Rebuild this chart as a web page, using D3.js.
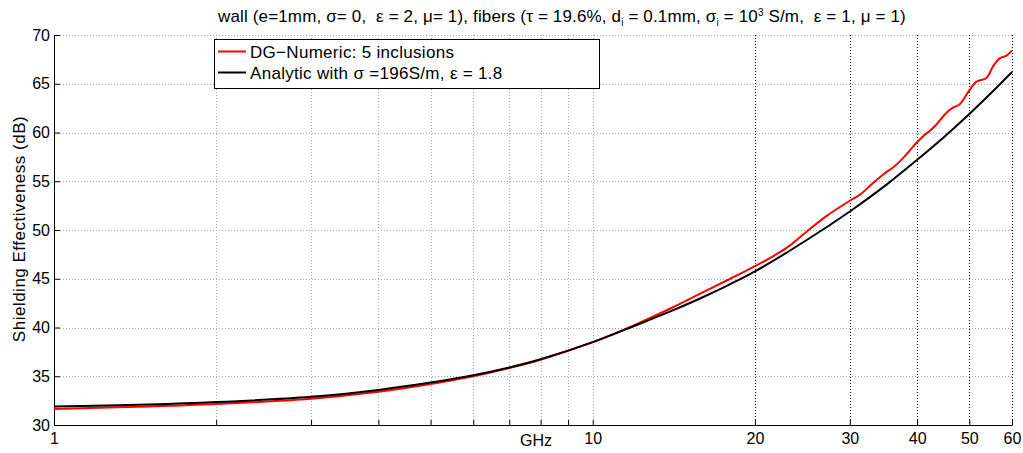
<!DOCTYPE html>
<html>
<head>
<meta charset="utf-8">
<script src="https://cdn.jsdelivr.net/npm/d3@7"></script>
<style>
  body { margin: 0; background: #fff; }
  text { font-family: "Liberation Sans", Arial, sans-serif; fill: #000; white-space: pre; }
</style>
</head>
<body>
<div id="chart"></div>
<script>
// data (GHz / dB)
var numFreq = [1, 1.5, 2, 3, 4, 5, 6, 7, 8, 10, 12, 14, 16, 18, 20, 21.6, 23.2, 24.9, 27.1, 30, 31.3, 33.1, 34.6, 36.6, 38.2, 39.9, 41, 42.2, 43.4, 45.3, 46.6, 48, 50.1, 51.5, 53.8, 55.3, 56.9, 58.5, 60];
var numSE = [31.65, 31.9, 32.15, 32.7, 33.4, 34.2, 35.0, 35.85, 36.7, 38.5, 40.3, 42.0, 43.6, 45.0, 46.3, 47.3, 48.4, 49.8, 51.4, 53.0, 53.6, 54.8, 55.7, 56.7, 57.75, 58.95, 59.6, 60.15, 60.8, 62.0, 62.55, 62.9, 64.4, 65.2, 65.6, 66.75, 67.6, 67.85, 68.4];

var anaFreq = [1, 1.5, 2, 3, 4, 5, 6, 7, 8, 10, 12, 14, 16, 18, 20, 25, 30, 35, 40, 45, 50, 55, 60];
var anaSE = [31.9, 32.1, 32.35, 32.9, 33.6, 34.35, 35.1, 35.9, 36.75, 38.5, 40.2, 41.7, 43.1, 44.45, 45.75, 49.0, 51.9, 54.6, 57.2, 59.6, 61.9, 64.1, 66.2];

var xTickVals = [1, 2, 3, 4, 5, 6, 7, 8, 9, 10, 20, 30, 40, 50, 60];
var xLabelVals = [1, 10, 20, 30, 40, 50, 60];
var xDarkGrid = [20, 30, 40, 50, 60];
var yTickVals = [30, 35, 40, 45, 50, 55, 60, 65, 70];

var legendLabels = ["DG\u2212Numeric: 5 inclusions", "Analytic with \u03c3 =196S/m, \u03b5 = 1.8"];
var seriesColors = ["#ff0000", "#000000"];

var svgWidth = 1023;
var svgHeight = 453;
var margin = { top: 35, right: 11, bottom: 28, left: 54 };
var width = svgWidth - margin.left - margin.right;
var height = svgHeight - margin.top - margin.bottom;

var svg = d3.select("#chart").append("svg")
    .attr("width", svgWidth)
    .attr("height", svgHeight);

var chartGroup = svg.append("g")
    .attr("transform", `translate(${margin.left}, ${margin.top})`);

var x = d3.scaleLog().domain([1, 60]).range([0, width]);
var y = d3.scaleLinear().domain([30, 70]).range([height, 0]);

// grid lines
chartGroup.append("g").selectAll("line")
    .data(yTickVals.slice(1))
    .enter().append("line")
    .attr("x1", 0).attr("x2", width)
    .attr("y1", d => Math.round(y(d)) + 0.5).attr("y2", d => Math.round(y(d)) + 0.5)
    .attr("stroke", "#a8a8a8")
    .attr("stroke-width", 1)
    .attr("stroke-dasharray", "1,2");

chartGroup.append("g").selectAll("line")
    .data(xTickVals.slice(1))
    .enter().append("line")
    .attr("x1", d => Math.round(x(d)) + 0.5).attr("x2", d => Math.round(x(d)) + 0.5)
    .attr("y1", 0).attr("y2", height)
    .attr("stroke", d => xDarkGrid.includes(d) ? "#000" : "#a8a8a8")
    .attr("stroke-width", 1)
    .attr("stroke-dasharray", "1,2");

// axes (ticks point inward)
var bottomAxis = d3.axisBottom(x)
    .tickValues(xTickVals)
    .tickSizeInner(-5)
    .tickSizeOuter(0)
    .tickFormat(d => xLabelVals.includes(d) ? d : "");

var leftAxis = d3.axisLeft(y)
    .tickValues(yTickVals)
    .tickSizeInner(-6)
    .tickSizeOuter(0);

var xAxis = chartGroup.append("g")
    .attr("transform", `translate(0, ${height})`)
    .call(bottomAxis);
xAxis.selectAll("text")
    .attr("y", 5)
    .attr("dy", "0.9em")
    .style("font-size", "16px");

var yAxis = chartGroup.append("g")
    .call(leftAxis);
yAxis.selectAll("text")
    .attr("x", -4)
    .style("font-size", "16px");

chartGroup.selectAll(".domain, .tick line")
    .attr("stroke", "#000");

// curves
var line = d3.line()
    .x(d => x(d[0]))
    .y(d => y(d[1]))
    .curve(d3.curveCatmullRom);

var numData = numFreq.map((f, i) => [f, numSE[i]]);
var anaData = anaFreq.map((f, i) => [f, anaSE[i]]);

chartGroup.append("path")
    .datum(numData)
    .attr("d", line)
    .attr("fill", "none")
    .attr("stroke", seriesColors[0])
    .attr("stroke-width", 2);

chartGroup.append("path")
    .datum(anaData)
    .attr("d", line)
    .attr("fill", "none")
    .attr("stroke", seriesColors[1])
    .attr("stroke-width", 2);

// labels
svg.append("text")
    .attr("x", 536)
    .attr("y", 446)
    .attr("text-anchor", "middle")
    .style("font-size", "16px")
    .text("GHz");

svg.append("text")
    .attr("transform", "translate(25, 229) rotate(-90)")
    .attr("text-anchor", "middle")
    .style("font-size", "17px")
    .style("letter-spacing", "0.5px")
    .text("Shielding Effectiveness (dB)");

var title = svg.append("text")
    .attr("x", 218)
    .attr("y", 22)
    .style("font-size", "17px")
    .style("letter-spacing", "0.15px");
title.append("tspan").text("wall (e=1mm, \u03c3= 0,  \u03b5 = 2, \u03bc= 1), fibers (\u03c4 = 19.6%, d");
title.append("tspan").attr("dy", 4).style("font-size", "10px").text("i");
title.append("tspan").attr("dy", -4).text(" = 0.1mm, \u03c3");
title.append("tspan").attr("dy", 4).style("font-size", "10px").text("i");
title.append("tspan").attr("dy", -4).text(" = 10");
title.append("tspan").attr("dy", -6).style("font-size", "10px").text("3");
title.append("tspan").attr("dy", 6).text(" S/m,  \u03b5 = 1, \u03bc = 1)");

// legend
var legend = svg.append("g");
legend.append("rect")
    .attr("x", 214.5).attr("y", 39.5)
    .attr("width", 385).attr("height", 49)
    .attr("fill", "#fff")
    .attr("stroke", "#000")
    .attr("stroke-width", 1);

legendLabels.forEach(function(lbl, i) {
    var ly = 51.5 + i * 21;
    legend.append("line")
        .attr("x1", 218).attr("x2", 246)
        .attr("y1", ly).attr("y2", ly)
        .attr("stroke", seriesColors[i])
        .attr("stroke-width", 2);
    legend.append("text")
        .attr("x", 250)
        .attr("y", ly + 6)
        .style("font-size", "17px")
        .style("letter-spacing", "0.3px")
        .text(lbl);
});
</script>
</body>
</html>
